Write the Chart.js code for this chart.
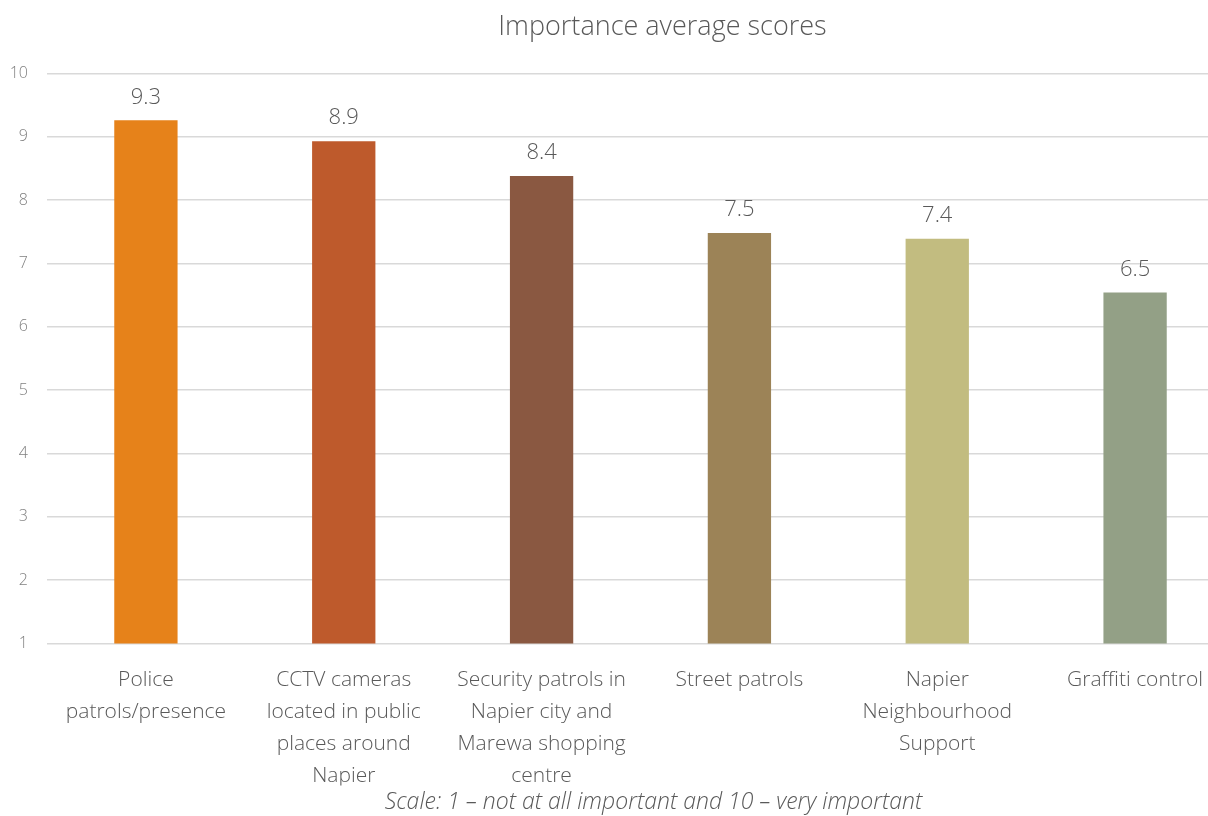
<!DOCTYPE html>
<html>
<head>
<meta charset="utf-8">
<script src="https://cdn.jsdelivr.net/npm/chart.js@4"></script>
<style>
  html, body { margin: 0; padding: 0; background: #fff; overflow: hidden; }
  #wrap { width: 1236px; height: 816px; }
</style>
</head>
<body>
<div id="wrap"><canvas id="scoresChart" width="1236" height="816"></canvas></div>
<script>
const categories = [
    ['Police', 'patrols/presence'],
    ['CCTV cameras', 'located in public', 'places around', 'Napier'],
    ['Security patrols in', 'Napier city and', 'Marewa shopping', 'centre'],
    'Street patrols',
    ['Napier', 'Neighbourhood', 'Support'],
    'Graffiti control'
];
const scores = [9.26, 8.93, 8.38, 7.48, 7.39, 6.54];
const barColours = ['#E6821A', '#BE5A2C', '#8A5841', '#9C8357', '#C2BC80', '#93A086'];
const yTicks = [1, 2, 3, 4, 5, 6, 7, 8, 9, 10];

const titleText = 'Importance average scores';
const footnoteText = 'Scale: 1 \u2013 not at all important and 10 \u2013 very important';

const fontFamily = '"Open Sans", "Segoe UI", sans-serif';

// draws the value above each bar
const valueLabels = {
    id: 'valueLabels',
    afterDatasetsDraw(chart) {
        const ctx = chart.ctx;
        const meta = chart.getDatasetMeta(0);
        ctx.save();
        ctx.font = '300 22px ' + fontFamily;
        ctx.fillStyle = '#595959';
        ctx.textAlign = 'center';
        ctx.textBaseline = 'bottom';
        meta.data.forEach((bar, i) => {
            ctx.fillText(scores[i].toFixed(1), bar.x, bar.y - 12);
        });
        ctx.restore();
    }
};

// nudges title and footnote a little right, like the original
const shiftTitles = {
    id: 'shiftTitles',
    afterLayout(chart) {
        chart.boxes.forEach(box => {
            if (!box.options || !box.options.text) return;
            const dx = box.options.text === titleText ? 22 : 13;
            box.left += dx;
            box.right += dx;
        });
    }
};

const ctx = document.getElementById('scoresChart').getContext('2d');
new Chart(ctx, {
    type: 'bar',
    data: {
        labels: categories,
        datasets: [{
            data: scores,
            backgroundColor: barColours,
            barPercentage: 0.32,
            categoryPercentage: 1
        }]
    },
    options: {
        responsive: false,
        animation: false,
        layout: { padding: { left: 10, right: 2, top: 4, bottom: 0 } },
        plugins: {
            legend: { display: false },
            tooltip: { enabled: false },
            title: {
                display: true,
                text: titleText,
                color: '#595959',
                fullSize: false,
                font: { family: fontFamily, size: 27, weight: '300' },
                padding: { top: 7, bottom: 30 }
            },
            subtitle: {
                display: true,
                position: 'bottom',
                text: footnoteText,
                color: '#595959',
                fullSize: false,
                font: { family: fontFamily, size: 23, style: 'italic', weight: '300' },
                padding: { top: 3, bottom: 0 }
            }
        },
        scales: {
            x: {
                grid: { display: false },
                border: { display: false },
                afterFit: axis => {
                    axis.paddingLeft = 0;
                    axis.paddingRight = 0;
                    axis.height = 142;
                },
                ticks: {
                    color: '#595959',
                    padding: 13,
                    maxRotation: 0,
                    autoSkip: false,
                    font: { family: fontFamily, size: 21, weight: '300', lineHeight: 1.52 }
                }
            },
            y: {
                min: 1,
                max: 10,
                afterBuildTicks: axis => { axis.ticks = yTicks.map(v => ({ value: v })); },
                afterFit: axis => { axis.width = 37; },
                grid: { color: '#d9d9d9', lineWidth: 1.5, drawTicks: false },
                border: { display: false },
                ticks: {
                    color: '#808080',
                    padding: 19,
                    font: { family: fontFamily, size: 16, weight: '300' }
                }
            }
        }
    },
    plugins: [valueLabels, shiftTitles]
});
</script>
</body>
</html>
